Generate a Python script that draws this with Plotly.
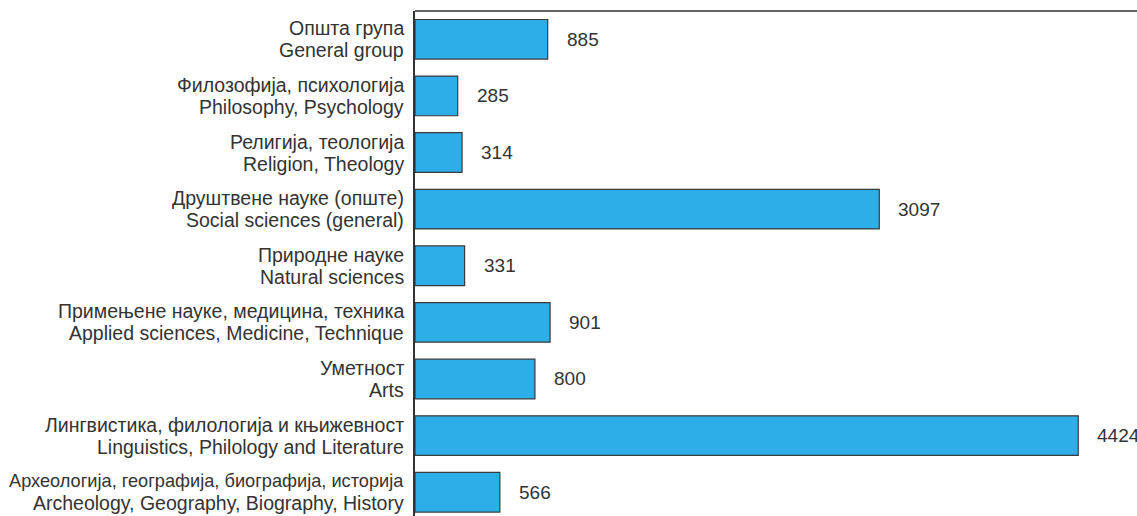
import plotly.graph_objects as go

# Subject groups (Serbian / English) and number of titles
categories_sr = [
    "Општа група",
    "Филозофија, психологија",
    "Религија, теологија",
    "Друштвене науке (опште)",
    "Природне науке",
    "Примењене науке, медицина, техника",
    "Уметност",
    "Лингвистика, филологија и књижевност",
    "Археологија, географија, биографија, историја",
]
categories_en = [
    "General group",
    "Philosophy, Psychology",
    "Religion, Theology",
    "Social sciences (general)",
    "Natural sciences",
    "Applied sciences, Medicine, Technique",
    "Arts",
    "Linguistics, Philology and Literature",
    "Archeology, Geography, Biography, History",
]
values = [885, 285, 314, 3097, 331, 901, 800, 4424, 566]

FONT = "Liberation Sans, Arial, sans-serif"
TEXT_COLOR = "#333333"
LABEL_SIZE = 19.5
MAX_CHARS = 42  # longer labels get a smaller font so they fit in the left margin


def label_size(txt):
    return min(LABEL_SIZE, LABEL_SIZE * MAX_CHARS / len(txt))


fig = go.Figure()
fig.add_trace(go.Bar(
    y=categories_en,
    x=values,
    orientation="h",
    width=0.7,
    marker=dict(color="#2eaee8", line=dict(color="#3a3a3a", width=1.2)),
    customdata=categories_sr,
    hovertemplate="%{customdata}<br>%{y}: %{x}<extra></extra>",
))

# value labels to the right of each bar
for cat, v in zip(categories_en, values):
    fig.add_annotation(
        x=v, y=cat, text=str(v), showarrow=False,
        xanchor="left", xshift=17,
        font=dict(family=FONT, size=19, color=TEXT_COLOR),
    )

# two-line category labels (Serbian above, English below), tightly spaced
for sr, en in zip(categories_sr, categories_en):
    for txt, dy in ((sr, 11), (en, -11)):
        fig.add_annotation(
            xref="paper", x=0, y=en, text=txt, showarrow=False,
            xanchor="right", yanchor="middle", xshift=-9, yshift=dy,
            align="right",
            font=dict(family=FONT, size=label_size(txt), color=TEXT_COLOR),
        )

# top border line of the plot area
fig.add_shape(type="line", xref="paper", yref="paper", x0=0, x1=1, y0=1, y1=1,
              line=dict(color="#333333", width=1.5))

fig.update_layout(
    width=1137, height=516,
    margin=dict(l=415, r=0, t=11, b=0),
    paper_bgcolor="white", plot_bgcolor="white",
    showlegend=False,
    font=dict(family=FONT, size=16, color=TEXT_COLOR),
)
fig.update_xaxes(range=[0, 4816], visible=False, showgrid=False, zeroline=False)
fig.update_yaxes(
    type="category",
    range=[8.42, -0.5],
    showline=True, linecolor="#333333", linewidth=1.5,
    showgrid=False, zeroline=False,
    ticks="", showticklabels=False,
)

fig.write_html("out.html")
